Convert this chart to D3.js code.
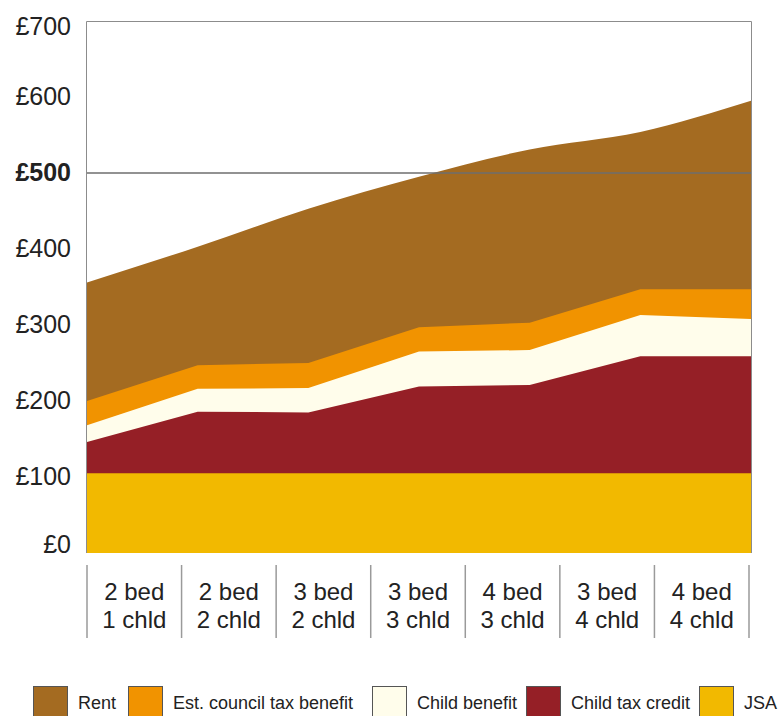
<!DOCTYPE html>
<html>
<head>
<meta charset="utf-8">
<script src="https://cdn.jsdelivr.net/npm/d3@7"></script>
<style>
  body { margin: 0; background: #fff; }
  svg text { font-family: "Liberation Sans", Arial, sans-serif; fill: #222; }
</style>
</head>
<body>
<div id="chart"></div>
<script>
// weekly income, £ per household type
const bedrooms = ["2 bed", "2 bed", "3 bed", "3 bed", "4 bed", "3 bed", "4 bed"];
const children = ["1 chld", "2 chld", "2 chld", "3 chld", "3 chld", "4 chld", "4 chld"];

const jsa          = [105, 105, 105, 105, 105, 105, 105];
const childTax     = [41, 81, 80, 114, 116, 154, 154];
const childBenefit = [22, 30, 32, 46, 46, 54, 49];
const councilTax   = [32, 31, 33, 32, 36, 34, 39];
const rent         = [156, 156, 203, 198, 228, 207, 248];

const yTicks = [0, 100, 200, 300, 400, 500, 600, 700];

const keys = ["jsa", "childTax", "childBenefit", "councilTax", "rent"];
const labels = {
    rent: "Rent",
    councilTax: "Est. council tax benefit",
    childBenefit: "Child benefit",
    childTax: "Child tax credit",
    jsa: "JSA"
};
const colors = {
    rent: "#a46b21",
    councilTax: "#f19300",
    childBenefit: "#fffdeb",
    childTax: "#951f26",
    jsa: "#f2b900"
};

const W = 778, H = 716;
const LEFT = 87, RIGHT = 751, TOP = 21, BOTTOM = 553;

const rows = bedrooms.map((b, i) => ({
    i: i,
    jsa: jsa[i],
    childTax: childTax[i],
    childBenefit: childBenefit[i],
    councilTax: councilTax[i],
    rent: rent[i]
}));

const series = d3.stack().keys(keys)(rows);

const x = d3.scalePoint().domain(d3.range(rows.length)).range([LEFT, RIGHT]);
const band = d3.scaleBand().domain(d3.range(rows.length)).range([LEFT, 749]);
const y = d3.scaleLinear().domain([0, 700]).range([BOTTOM, TOP]);

const svg = d3.select("#chart").append("svg")
    .attr("width", W)
    .attr("height", H);

// frame
svg.append("path")
    .attr("d", `M${LEFT - 0.5},${BOTTOM}V${TOP + 0.5}H${RIGHT + 0.5}V${BOTTOM}`)
    .attr("fill", "none")
    .attr("stroke", "#8c8c8c")
    .attr("stroke-width", 1);

// each layer filled from zero to its top, topmost first
series.slice().reverse().forEach(s => {
    const area = d3.area()
        .x(d => x(d.data.i))
        .y0(y(0))
        .y1(d => y(d[1]))
        .curve(s.key === "rent" ? d3.curveMonotoneX : d3.curveLinear);
    svg.append("path")
        .datum(s)
        .attr("d", area)
        .attr("fill", colors[s.key]);
});

// £500 line
svg.append("line")
    .attr("x1", LEFT).attr("x2", RIGHT)
    .attr("y1", y(500)).attr("y2", y(500))
    .attr("stroke", "#6e6e6e")
    .attr("stroke-width", 1.5);

// y labels
svg.selectAll("text.ylab")
    .data(yTicks)
    .enter()
    .append("text")
    .attr("class", "ylab")
    .attr("x", 71)
    .attr("y", d => y(d) + (d === 0 ? 0 : d === 700 ? 14 : 8))
    .attr("text-anchor", "end")
    .attr("font-size", 25)
    .attr("font-weight", d => d === 500 ? "bold" : "normal")
    .text(d => "£" + d);

// category dividers
svg.selectAll("line.div")
    .data(d3.range(rows.length + 1))
    .enter()
    .append("line")
    .attr("x1", d => d < rows.length ? band(d) : band(d - 1) + band.bandwidth())
    .attr("x2", d => d < rows.length ? band(d) : band(d - 1) + band.bandwidth())
    .attr("y1", 565)
    .attr("y2", 638)
    .attr("stroke", "#9a9a9a")
    .attr("stroke-width", 1.5);

const cat = svg.selectAll("g.cat")
    .data(rows)
    .enter()
    .append("g")
    .attr("transform", d => `translate(${band(d.i) + band.bandwidth() / 2},0)`);

cat.append("text")
    .attr("y", 600)
    .attr("text-anchor", "middle")
    .attr("font-size", 24)
    .text(d => bedrooms[d.i]);

cat.append("text")
    .attr("y", 628)
    .attr("text-anchor", "middle")
    .attr("font-size", 24)
    .text(d => children[d.i]);

// legend
const legendKeys = ["rent", "councilTax", "childBenefit", "childTax", "jsa"];
const legendX = [33, 128, 372, 526, 699];
const leg = svg.selectAll("g.leg")
    .data(legendKeys)
    .enter()
    .append("g")
    .attr("transform", (d, i) => `translate(${legendX[i]},0)`);

leg.append("rect")
    .attr("x", 0.5)
    .attr("y", 686.5)
    .attr("width", 34)
    .attr("height", 40)
    .attr("fill", d => colors[d])
    .attr("stroke", "#555")
    .attr("stroke-width", 1);

leg.append("text")
    .attr("x", 45)
    .attr("y", 709)
    .attr("font-size", 18)
    .text(d => labels[d]);
</script>
</body>
</html>
